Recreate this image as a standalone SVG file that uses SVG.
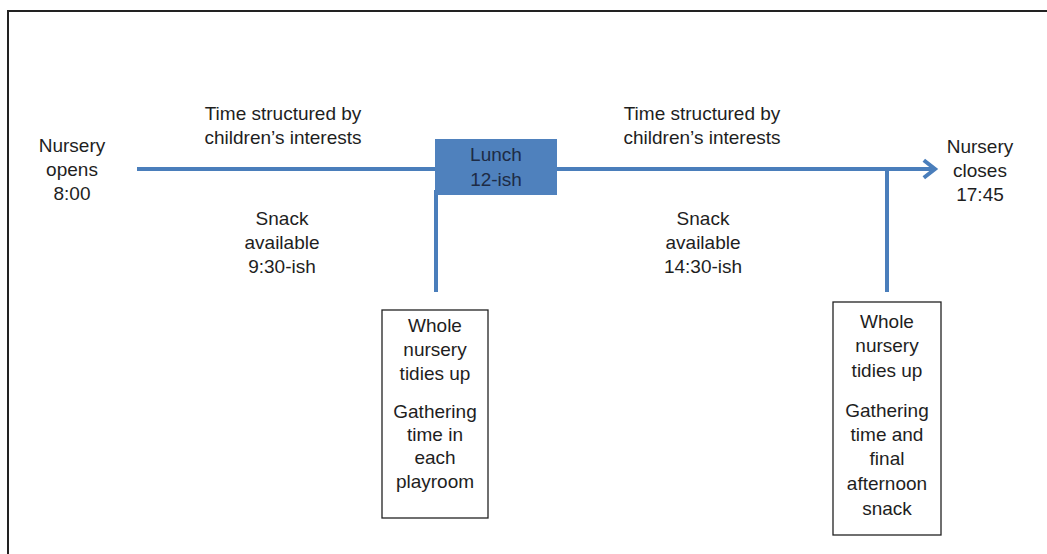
<svg xmlns="http://www.w3.org/2000/svg" width="1047" height="554" viewBox="0 0 1047 554">
<defs>
<style>
.t{font-family:"Liberation Sans",Arial,sans-serif;font-size:19px;fill:#1e1e1e;text-anchor:middle}
.lt{font-family:"Liberation Sans",Arial,sans-serif;font-size:19px;fill:#1d2b45;text-anchor:middle}
.ln{stroke:#4a7ebb;stroke-width:4;fill:none}
.bx{fill:#fff;stroke:#222;stroke-width:1.3}
</style>
<marker id="arr" markerWidth="8" markerHeight="8" refX="6" refY="4" orient="auto" markerUnits="strokeWidth">
<path d="M3.2,1.8 L6,4 L3.2,6.2" fill="none" stroke="#4a7ebb" stroke-width="1"/>
</marker>
</defs>
<rect width="1047" height="554" fill="#fff"/>
<g id="frame">
<path d="M8,554 L8,11 L1047,11" fill="none" stroke="#222" stroke-width="2"/>
</g>
<g id="connectors">
<line class="ln" x1="137" y1="169" x2="935" y2="169" marker-end="url(#arr)"/>
<line class="ln" x1="436" y1="190" x2="436" y2="292"/>
<line class="ln" x1="887" y1="169" x2="887" y2="292"/>
</g>
<g id="lunch">
<rect x="435" y="139" width="122" height="56" fill="#4f81bd"/>
<text class="lt" x="496" y="161">Lunch</text>
<text class="lt" x="496" y="186">12-ish</text>
</g>
<g id="opens">
<text class="t" x="72" y="152">Nursery</text>
<text class="t" x="72" y="176">opens</text>
<text class="t" x="72" y="200">8:00</text>
</g>
<g id="closes">
<text class="t" x="980" y="153">Nursery</text>
<text class="t" x="980" y="177">closes</text>
<text class="t" x="980" y="201">17:45</text>
</g>
<g id="time1">
<text class="t" x="283" y="120">Time structured by</text>
<text class="t" x="283" y="144">children’s interests</text>
</g>
<g id="time2">
<text class="t" x="702" y="120">Time structured by</text>
<text class="t" x="702" y="144">children’s interests</text>
</g>
<g id="snack1">
<text class="t" x="282" y="225">Snack</text>
<text class="t" x="282" y="249">available</text>
<text class="t" x="282" y="273">9:30-ish</text>
</g>
<g id="snack2">
<text class="t" x="703" y="225">Snack</text>
<text class="t" x="703" y="249">available</text>
<text class="t" x="703" y="273">14:30-ish</text>
</g>
<g id="box1">
<rect class="bx" x="382" y="310" width="106" height="208"/>
<text class="t" x="435" y="332">Whole</text>
<text class="t" x="435" y="356">nursery</text>
<text class="t" x="435" y="380">tidies up</text>
<text class="t" x="435" y="418">Gathering</text>
<text class="t" x="435" y="441">time in</text>
<text class="t" x="435" y="464">each</text>
<text class="t" x="435" y="488">playroom</text>
</g>
<g id="box2">
<rect class="bx" x="833" y="302" width="108" height="233"/>
<text class="t" x="887" y="328">Whole</text>
<text class="t" x="887" y="352">nursery</text>
<text class="t" x="887" y="377">tidies up</text>
<text class="t" x="887" y="417">Gathering</text>
<text class="t" x="887" y="441">time and</text>
<text class="t" x="887" y="465">final</text>
<text class="t" x="887" y="490">afternoon</text>
<text class="t" x="887" y="515">snack</text>
</g>
</svg>
